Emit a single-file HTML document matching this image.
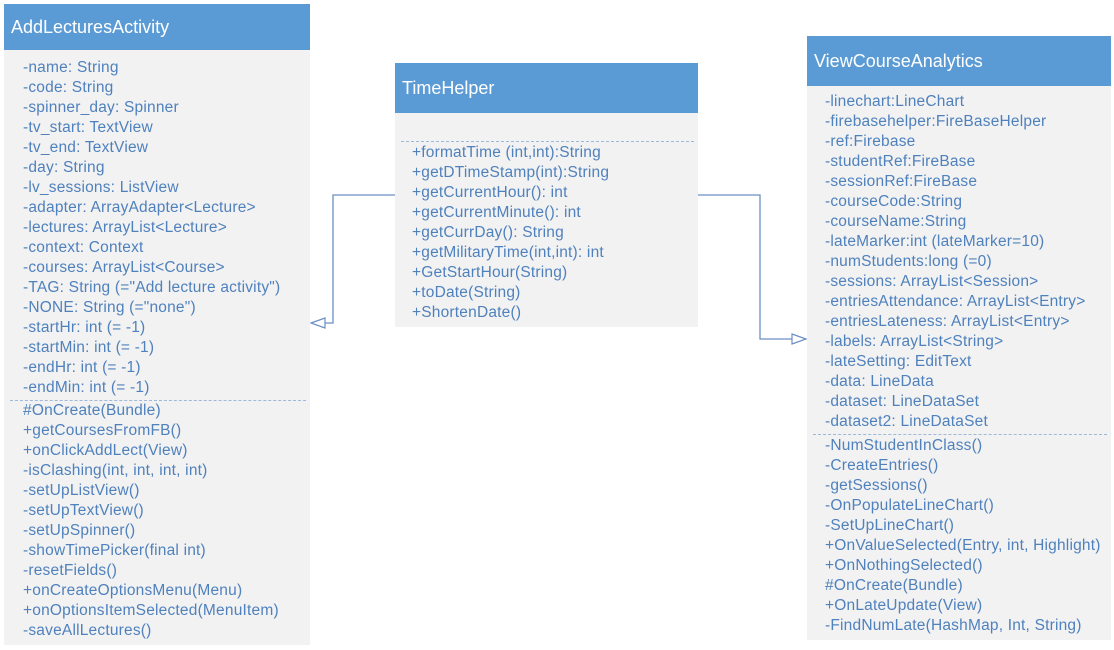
<!DOCTYPE html>
<html><head><meta charset="utf-8"><style>
body{margin:0;width:1114px;height:650px;background:#fff;position:relative;overflow:hidden;font-family:"Liberation Sans",sans-serif}
.box{position:absolute;background:#f2f2f2}
.hd{position:absolute;left:0;right:0;top:0;background:#5b9bd5;color:#fff;font-size:18px;padding-left:7px;box-sizing:border-box}
.ln{position:absolute;color:#4f81bd;font-size:15.5px;letter-spacing:0.2px;white-space:nowrap;line-height:20px}
.sep{position:absolute;left:6px;right:4px;border-top:1px dashed #9fb8d8}
</style></head><body>
<svg width="1114" height="650" style="position:absolute;left:0;top:0">
<polyline points="395,195 333,195 333,323 320,323" fill="none" stroke="#6a8fc4" stroke-width="1.3"/>
<polygon points="311,323 325,318 325,328" fill="#fff" stroke="#6a8fc4" stroke-width="1.2"/>
<polyline points="698,195 760,195 760,339 792,339" fill="none" stroke="#6a8fc4" stroke-width="1.3"/>
<polygon points="806,339 792,334 792,344" fill="#fff" stroke="#6a8fc4" stroke-width="1.2"/>
</svg>

<div class="box" style="left:4px;top:4px;width:306px;height:641px">
<div class="hd" style="height:46px;line-height:46px">AddLecturesActivity</div>
<div class="ln" style="left:19px;top:54px">-name: String<br>-code: String<br>-spinner_day: Spinner<br>-tv_start: TextView<br>-tv_end: TextView<br>-day: String<br>-lv_sessions: ListView<br>-adapter: ArrayAdapter&lt;Lecture&gt;<br>-lectures: ArrayList&lt;Lecture&gt;<br>-context: Context<br>-courses: ArrayList&lt;Course&gt;<br>-TAG: String (="Add lecture activity")<br>-NONE: String (="none")<br>-startHr: int (= -1)<br>-startMin: int (= -1)<br>-endHr: int (= -1)<br>-endMin: int (= -1)</div>
<div class="sep" style="top:396px"></div>
<div class="ln" style="left:19px;top:397px">#OnCreate(Bundle)<br>+getCoursesFromFB()<br>+onClickAddLect(View)<br>-isClashing(int, int, int, int)<br>-setUpListView()<br>-setUpTextView()<br>-setUpSpinner()<br>-showTimePicker(final int)<br>-resetFields()<br>+onCreateOptionsMenu(Menu)<br>+onOptionsItemSelected(MenuItem)<br>-saveAllLectures()</div>
</div>

<div class="box" style="left:395px;top:63px;width:303px;height:264px">
<div class="hd" style="height:50px;line-height:50px">TimeHelper</div>
<div class="sep" style="top:78px"></div>
<div class="ln" style="left:17px;top:80px">+formatTime (int,int):String<br>+getDTimeStamp(int):String<br>+getCurrentHour(): int<br>+getCurrentMinute(): int<br>+getCurrDay(): String<br>+getMilitaryTime(int,int): int<br>+GetStartHour(String)<br>+toDate(String)<br>+ShortenDate()</div>
</div>

<div class="box" style="left:807px;top:36px;width:304px;height:604px">
<div class="hd" style="height:50px;line-height:50px">ViewCourseAnalytics</div>
<div class="ln" style="left:18px;top:56px">-linechart:LineChart<br>-firebasehelper:FireBaseHelper<br>-ref:Firebase<br>-studentRef:FireBase<br>-sessionRef:FireBase<br>-courseCode:String<br>-courseName:String<br>-lateMarker:int (lateMarker=10)<br>-numStudents:long (=0)<br>-sessions: ArrayList&lt;Session&gt;<br>-entriesAttendance: ArrayList&lt;Entry&gt;<br>-entriesLateness: ArrayList&lt;Entry&gt;<br>-labels: ArrayList&lt;String&gt;<br>-lateSetting: EditText<br>-data: LineData<br>-dataset: LineDataSet<br>-dataset2: LineDataSet</div>
<div class="sep" style="top:398px"></div>
<div class="ln" style="left:18px;top:400px">-NumStudentInClass()<br>-CreateEntries()<br>-getSessions()<br>-OnPopulateLineChart()<br>-SetUpLineChart()<br>+OnValueSelected(Entry, int, Highlight)<br>+OnNothingSelected()<br>#OnCreate(Bundle)<br>+OnLateUpdate(View)<br>-FindNumLate(HashMap, Int, String)</div>
</div>
</body></html>
